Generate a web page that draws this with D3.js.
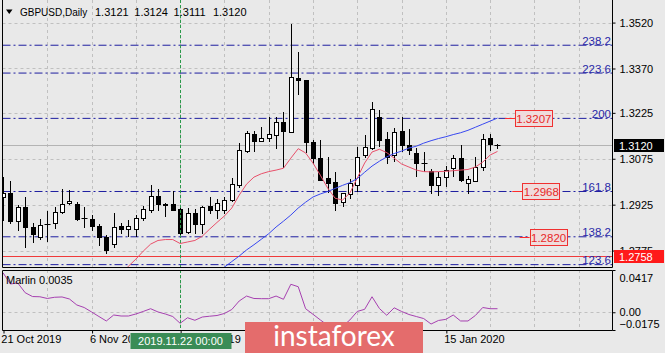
<!DOCTYPE html>
<html>
<head>
<meta charset="utf-8">
<script src="https://cdn.jsdelivr.net/npm/d3@7"></script>
<style>
  body { margin: 0; background: #e9e9e9; }
  svg { display: block; font-family: "Liberation Sans", Arial, sans-serif; }
</style>
</head>
<body>
<svg id="chart" width="665" height="353"></svg>
<script>
// 일봉 데이터 (GBPUSD, 21 Oct 2019 부터)
const opens = [1.2950,1.2962,1.2871,1.2917,1.2852,1.2819,1.2861,1.2865,1.2900,1.2929,
  1.2927,1.2883,1.2879,1.2855,1.2820,1.2798,1.2855,1.2846,1.2846,1.2882,
  1.2907,1.2953,1.2926,1.2927,1.2910,1.2836,1.2897,1.2861,1.2920,1.2907,
  1.2907,1.2940,1.2989,1.3100,1.3155,1.3134,1.3144,1.3152,1.3194,1.3163,
  1.3340,1.3332,1.3131,1.3076,1.3011,1.3000,1.2934,1.2961,1.2989,1.3087,
  1.3110,1.3210,1.3139,1.3086,1.3165,1.3120,1.3093,1.3062,1.3035,1.2989,
  1.3017,1.3044,1.3076,1.2997,1.3002,1.3049,1.3142,1.3121];
const highs = [1.3016,1.3003,1.2924,1.2951,1.2865,1.2878,1.2905,1.2918,1.2976,1.2973,
  1.2934,1.2918,1.2891,1.2862,1.2826,1.2898,1.2865,1.2875,1.2891,1.2920,
  1.2989,1.2975,1.2930,1.2970,1.2914,1.2914,1.2910,1.2920,1.2951,1.2945,
  1.2949,1.3011,1.3125,1.3165,1.3165,1.3179,1.3212,1.3212,1.3228,1.3517,
  1.3425,1.3334,1.3137,1.3137,1.3081,1.3032,1.2963,1.3009,1.3115,1.3152,
  1.3259,1.3234,1.3161,1.3176,1.3212,1.3172,1.3109,1.3098,1.3043,1.3031,
  1.3051,1.3087,1.3120,1.3018,1.3081,1.3155,1.3155,1.3124];
const lows = [1.2875,1.2865,1.2842,1.2787,1.2804,1.2812,1.2807,1.2849,1.2898,1.2927,
  1.2875,1.2851,1.2842,1.2793,1.2766,1.2787,1.2833,1.2821,1.2821,1.2875,
  1.2902,1.2907,1.2888,1.2907,1.2826,1.2834,1.2833,1.2831,1.2897,1.2880,
  1.2897,1.2938,1.2983,1.3098,1.3100,1.3133,1.3133,1.3109,1.3049,1.3162,
  1.3285,1.3098,1.3060,1.3004,1.2967,1.2907,1.2919,1.2947,1.2970,1.3081,
  1.3108,1.3116,1.3061,1.3069,1.3100,1.3090,1.3019,1.3035,1.2962,1.2956,
  1.2987,1.3018,1.3003,1.2962,1.3001,1.3038,1.3103,1.3111];
const closes = [1.2963,1.2872,1.2917,1.2852,1.2829,1.2858,1.2862,1.2901,1.2927,1.2937,
  1.2877,1.2882,1.2855,1.2818,1.2777,1.2851,1.2844,1.2855,1.2883,1.2910,
  1.2953,1.2927,1.2925,1.2909,1.2833,1.2897,1.2862,1.2918,1.2907,1.2931,
  1.2940,1.2993,1.3103,1.3158,1.3133,1.3142,1.3155,1.3194,1.3165,1.3343,
  1.3332,1.3129,1.3078,1.3005,1.2996,1.2932,1.2962,1.2996,1.3081,1.3112,
  1.3238,1.3136,1.3081,1.3164,1.3120,1.3102,1.3061,1.3061,1.2989,1.3016,
  1.3038,1.3079,1.3005,1.3008,1.3049,1.3139,1.3123,1.3120];

// 이동평균 (빨강: 16번째 봉부터, 파랑: 29번째 봉부터)
const fastMAFrom = 16;
const fastMA = [1.2699,1.2724,1.2747,1.2773,1.2796,1.2808,1.2811,1.2811,1.2798,1.2803,
  1.2808,1.2822,1.2845,1.2867,1.2888,1.2914,1.2956,1.2992,1.3015,1.3026,
  1.3033,1.3038,1.3044,1.3077,1.3108,1.3094,1.3061,1.3021,1.2979,1.2946,
  1.2940,1.2963,1.3012,1.3061,1.3097,1.3106,1.3095,1.3077,1.3058,1.3048,
  1.3038,1.3033,1.3032,1.3033,1.3034,1.3036,1.3038,1.3040,1.3048,1.3064,
  1.3087,1.3099];
const slowMAFrom = 29;
const slowMA = [1.2705,1.2721,1.2739,1.2757,1.2777,1.2794,1.2812,1.2830,1.2852,1.2871,
  1.2891,1.2914,1.2933,1.2950,1.2960,1.2968,1.2978,1.2988,1.2997,1.3010,
  1.3031,1.3051,1.3067,1.3081,1.3092,1.3100,1.3110,1.3116,1.3126,1.3134,
  1.3141,1.3147,1.3154,1.3160,1.3168,1.3178,1.3188,1.3198,1.3208];

// Marlin 지표
const marlin = [0.0390,0.0279,0.0289,0.0193,0.0155,0.0153,0.0136,0.0148,0.0151,0.0131,
  0.0072,0.0047,0.0003,-0.0042,-0.0086,-0.0027,-0.0037,-0.0037,-0.0017,0.0008,
  0.0035,0.0003,-0.0017,-0.0042,-0.0109,-0.0054,-0.0079,-0.0047,-0.0039,-0.0032,
  -0.0012,0.0027,0.0111,0.0160,0.0136,0.0134,0.0134,0.0160,0.0128,0.0276,
  0.0252,0.0035,-0.0020,-0.0076,-0.0130,-0.0160,-0.0140,-0.0076,0.0008,0.0029,
  0.0153,0.0037,-0.0030,0.0044,0.0008,-0.0022,-0.0042,-0.0062,-0.0116,-0.0081,
  -0.0070,-0.0027,-0.0086,-0.0086,-0.0032,0.0047,0.0035,0.0035];

// 축 눈금 (12월 라벨 두 개는 로고에 가려져 보이지 않음)
const priceTicks = [1.3520, 1.3370, 1.3225, 1.3075, 1.2925, 1.2775];
const marlinTicks = [0.0417, 0, -0.0175];
const dateBars = [0, 12, 24, 60];
const dateLabels = ["21 Oct 2019", "6 Nov 2019", "22 Nov 2019", "15 Jan 2020"];

// 피보나치 레벨
const fibNames = ["238.2", "223.6", "200", "161.8", "138.2", "123.6"];
const fibPrices = [1.3446, 1.3355, 1.3207, 1.2968, 1.2820, 1.2729];

// 가격 라벨
const markPrices = [1.3207, 1.2968, 1.2820];
const markBars = [68, 69, 70];
const lastPrice = 1.3120;
const levelPrice = 1.2758;
const markerBar = 24;
const markerLabel = "2019.11.22 00:00";

const svg = d3.select("#chart");
const L = 2.5, R = 612.5, mainBottom = 267.5, indTop = 270.5, indBottom = 330.5;

const x = d3.scaleLinear().domain([0, 82.65]).range([3, 613]);
const y = d3.scaleLinear().domain([1.2718, 1.3584]).range([268, 3]);
const yi = d3.scaleLinear().domain([-0.0175, 0.0417]).range([330, 270]);
const px = v => Math.round(v) + 0.5;

svg.append("rect").attr("width", 665).attr("height", 353).attr("fill", "#e9e9e9");

const defs = svg.append("defs");
defs.append("clipPath").attr("id", "clipMain")
  .append("rect").attr("x", L).attr("y", 0).attr("width", R - L).attr("height", mainBottom);
defs.append("clipPath").attr("id", "clipInd")
  .append("rect").attr("x", L).attr("y", indTop).attr("width", R - L).attr("height", indBottom - indTop);

const gMain = svg.append("g").attr("clip-path", "url(#clipMain)");
const gInd = svg.append("g").attr("clip-path", "url(#clipInd)");

// 그리드
const gridBars = d3.range(6, 83, 6);
[gMain, gInd].forEach(g => {
  g.selectAll(".vgrid").data(gridBars).enter().append("line")
    .attr("x1", d => px(x(d))).attr("x2", d => px(x(d)))
    .attr("y1", 0).attr("y2", 353)
    .attr("stroke", "#c0c0c0").attr("stroke-dasharray", "3,3");
});
gMain.selectAll(".hgrid").data(priceTicks).enter().append("line")
  .attr("x1", L).attr("x2", R)
  .attr("y1", d => px(y(d))).attr("y2", d => px(y(d)))
  .attr("stroke", "#c0c0c0").attr("stroke-dasharray", "3,3");
gInd.append("line").attr("x1", L).attr("x2", R)
  .attr("y1", px(yi(0))).attr("y2", px(yi(0)))
  .attr("stroke", "#c0c0c0").attr("stroke-dasharray", "3,3");

// 현재가 라인
gMain.append("line").attr("x1", L).attr("x2", R)
  .attr("y1", px(y(lastPrice))).attr("y2", px(y(lastPrice)))
  .attr("stroke", "#b4b4b4");

// 피보나치 라인
gMain.selectAll(".fib").data(fibPrices).enter().append("line")
  .attr("x1", L).attr("x2", R)
  .attr("y1", d => y(d)).attr("y2", d => y(d))
  .attr("stroke", "#1e1ea0").attr("stroke-dasharray", "8,3,2,3");

// 1.2758 레벨
gMain.append("line").attr("x1", L).attr("x2", R)
  .attr("y1", px(y(levelPrice))).attr("y2", px(y(levelPrice)))
  .attr("stroke", "#f03a3a");

// 11.22 세로선
svg.append("line").attr("x1", px(x(markerBar))).attr("x2", px(x(markerBar)))
  .attr("y1", 0).attr("y2", indBottom)
  .attr("stroke", "#2a9a4a").attr("stroke-dasharray", "3,2");

// 캔들
const bars = d3.range(opens.length).map(i => ({
  i, o: opens[i], h: highs[i], l: lows[i], c: closes[i]
}));
const candle = gMain.selectAll(".candle").data(bars).enter().append("g");
candle.append("line")
  .attr("x1", d => px(x(d.i))).attr("x2", d => px(x(d.i)))
  .attr("y1", d => Math.round(y(d.h))).attr("y2", d => Math.round(y(d.l)) + 1)
  .attr("stroke", "#000");
candle.each(function (d) {
  const g = d3.select(this);
  const cx = px(x(d.i));
  const top = Math.round(y(Math.max(d.o, d.c))) + 0.5;
  const bot = Math.round(y(Math.min(d.o, d.c))) + 0.5;
  if (bot - top < 1) {
    g.append("line").attr("x1", cx - 3).attr("x2", cx + 3)
      .attr("y1", top).attr("y2", top).attr("stroke", "#000");
  } else {
    g.append("rect").attr("x", cx - 2).attr("y", top)
      .attr("width", 4).attr("height", bot - top)
      .attr("fill", d.c >= d.o ? "#fff" : "#000").attr("stroke", "#000");
  }
});

// 이동평균선
const maLine = from => d3.line().x((d, i) => x(i + from)).y(d => y(d));
gMain.append("path").datum(fastMA).attr("d", maLine(fastMAFrom))
  .attr("fill", "none").attr("stroke", "#e8506a").attr("stroke-width", 1);
gMain.append("path").datum(slowMA).attr("d", maLine(slowMAFrom))
  .attr("fill", "none").attr("stroke", "#3848f0").attr("stroke-width", 1);

// Marlin
gInd.append("path").datum(marlin)
  .attr("d", d3.line().x((d, i) => x(i)).y(d => yi(d)))
  .attr("fill", "none").attr("stroke", "#a640b0").attr("stroke-width", 1);

// 프레임
const frame = svg.append("g").attr("stroke", "#000").attr("fill", "none");
frame.append("path").attr("d", `M${L},0V${mainBottom}H${R}V0`);
frame.append("path").attr("d", `M${L},${indTop}H${R}V${indBottom}H${L}Z`);

// 피보 라벨
svg.selectAll(".fibLabel").data(fibPrices).enter().append("text")
  .attr("x", 611).attr("y", d => y(d) - 0.5)
  .attr("text-anchor", "end").attr("font-size", 11.5).attr("fill", "#2828a8")
  .text((d, i) => fibNames[i]);

// 가격 라벨 박스
markPrices.forEach((p, i) => {
  const ax = x(markBars[i]);
  const yy = px(y(p));
  svg.append("line").attr("x1", ax).attr("x2", ax + 10).attr("y1", yy).attr("y2", yy)
    .attr("stroke", "#ff2a2a");
  svg.append("rect").attr("x", Math.round(ax + 10) + 0.5).attr("y", yy - 8)
    .attr("width", 37).attr("height", 16)
    .attr("fill", "#efdcdc").attr("stroke", "#f03030");
  svg.append("text").attr("x", ax + 29).attr("y", yy + 4.5)
    .attr("text-anchor", "middle").attr("font-size", 11.5).attr("fill", "#e82828")
    .text(p.toFixed(4));
});

// 가격 축
const yAxis = svg.append("g").attr("transform", `translate(${R},0)`)
  .call(d3.axisRight(y).tickValues(priceTicks).tickSize(3).tickPadding(4).tickFormat(d3.format(".4f")));
yAxis.select(".domain").remove();
yAxis.selectAll("text").attr("font-size", 11).attr("font-family", "Liberation Sans, Arial, sans-serif").attr("fill", "#000");

// 지표 축
const iAxis = svg.append("g").attr("transform", `translate(${R},0)`)
  .call(d3.axisRight(yi).tickValues(marlinTicks).tickSize(3).tickPadding(4)
    .tickFormat(d => d === 0 ? "0.00" : d3.format(".4f")(d)));
iAxis.select(".domain").remove();
iAxis.selectAll("text").attr("font-size", 11).attr("font-family", "Liberation Sans, Arial, sans-serif").attr("fill", "#000")
  .attr("dy", d => d === 0.0417 ? "1.05em" : d === -0.0175 ? "-0.25em" : "0.32em");

// 현재가 / 레벨 라벨
[[lastPrice, "#000"], [levelPrice, "#ff1a1a"]].forEach(([p, col]) => {
  const yy = Math.round(y(p));
  svg.append("rect").attr("x", 614).attr("y", yy - 6).attr("width", 50).attr("height", 13).attr("fill", col);
  svg.append("text").attr("x", 619).attr("y", yy + 4.5).attr("font-size", 11).attr("fill", "#fff")
    .text(p.toFixed(4));
});

// 날짜 축 (라벨 박스와 로고에 가려지는 부분은 잘라냄)
const dateClip = defs.append("clipPath").attr("id", "clipDates");
[[0, 130], [231, 14], [423, 242]].forEach(([cx, cw]) => {
  dateClip.append("rect").attr("x", cx).attr("y", 331).attr("width", cw).attr("height", 22);
});
const xAxis = svg.append("g").attr("transform", `translate(0,${indBottom})`)
  .call(d3.axisBottom(x).tickValues(dateBars).tickSize(3).tickFormat((d, i) => dateLabels[i]));
xAxis.select(".domain").remove();
xAxis.selectAll(".tick line").attr("transform", "translate(0.5,0)");
xAxis.selectAll("text").attr("font-size", 11).attr("font-family", "Liberation Sans, Arial, sans-serif")
  .attr("fill", "#000").attr("text-anchor", "start").attr("dx", "-0.2em").attr("y", 5)
  .attr("clip-path", "url(#clipDates)")
  .attr("transform", `translate(0,0)`);
// 텍스트 clip은 축 그룹 좌표가 아닌 svg 좌표 기준이 되도록 그룹 단위로 적용
xAxis.selectAll("text").attr("clip-path", null);
xAxis.selectAll(".tick").each(function () {
  const t = d3.select(this);
  const tx = +t.attr("transform").match(/translate\(([-\d.]+)/)[1];
  const wrap = t.append("g").attr("clip-path", "url(#clipDates)")
    .attr("transform", `translate(${-tx},${-indBottom})`);
  const txt = t.select("text").remove();
  wrap.append("g").attr("transform", `translate(${tx},${indBottom})`).node().appendChild(txt.node());
});

// 11.22 라벨 박스
const mx = px(x(markerBar));
svg.append("rect").attr("x", mx - 50).attr("y", 333).attr("width", 101).attr("height", 16).attr("fill", "#3a8c56");
svg.append("text").attr("x", mx).attr("y", 345).attr("text-anchor", "middle")
  .attr("font-size", 11).attr("fill", "#fff").text(markerLabel);

// 제목
svg.append("path").attr("d", "M6,9.5H12.5L9.25,14Z").attr("fill", "#000");
svg.append("text").attr("x", 20).attr("y", 16).attr("font-size", 10).attr("fill", "#000")
  .text("GBPUSD,Daily");
const ohlc = [opens, highs, lows, closes].map(a => a[a.length - 1].toFixed(4));
svg.selectAll(".ohlc").data(ohlc).enter().append("text")
  .attr("x", (d, i) => 95 + i * 39.3).attr("y", 16).attr("font-size", 11).attr("fill", "#000")
  .text(d => d);
svg.append("text").attr("x", 6).attr("y", 284).attr("font-size", 11).attr("fill", "#000")
  .text("Marlin " + marlin[marlin.length - 1].toFixed(4));

// 로고
svg.append("rect").attr("x", 245).attr("y", 322).attr("width", 178).attr("height", 31)
  .attr("fill", "#e46c6c");
svg.append("text").attr("x", 334).attr("y", 346).attr("text-anchor", "middle")
  .attr("font-family", "Lato, 'Open Sans', sans-serif").attr("font-size", 28).attr("fill", "#fff")
  .text("instaforex");
</script>
</body>
</html>
